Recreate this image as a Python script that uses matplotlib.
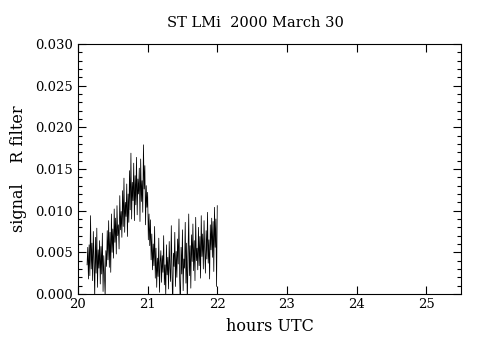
import matplotlib
matplotlib.use("Agg")
import matplotlib.pyplot as plt
import numpy as np
from matplotlib.ticker import MultipleLocator, FormatStrFormatter

# sampling: first sample time (hours UTC) and cadence (hours)
t_start = 20.13
t_step = 0.01

# R filter signal, in units of 0.001
signal_milli = [
    3.5, 5.6, 1.8, 5.9, 2.2, 9.4, 3.0, 6.1, 1.6, 7.5,
    4.0, -0.4, 6.8, 2.5, 7.9, 0.8, 5.3, 3.1, 6.4, 1.2,
    5.7, 2.4, 7.3, 0.3, 4.6, 2.0, -0.3, 5.2, 3.3, 7.6,
    4.1, 8.8, 3.2, 7.4, 2.6, 9.6, 5.0, 7.8, 4.3, 10.2,
    6.2, 9.1, 4.8, 10.6, 7.0, 8.3, 5.4, 11.8, 7.7, 9.9,
    6.8, 12.4, 8.1, 13.9, 7.4, 11.0, 9.3, 13.2, 6.9, 12.0,
    8.6, 14.8, 10.1, 16.9, 9.0, 13.4, 11.2, 15.7, 8.8, 14.2,
    10.7, 16.4, 9.5, 13.8, 12.0, 15.1, 8.7, 16.2, 11.1, 13.6,
    9.8, 17.9, 12.6, 15.4, 8.3, 13.0, 10.4, 12.2, 6.5, 9.6,
    5.8, 8.9, 4.1, 7.2, 2.9, 6.0, 3.4, 8.1, 1.9, 5.5,
    0.8, 4.3, 2.1, 6.7, 0.2, 3.8, 5.2, 1.4, 4.6, 2.6,
    7.0, 1.1, 3.5, -0.2, 5.9, 2.3, 4.4, 0.6, 6.3, 3.0,
    1.5, 8.2, 2.7, -1.8, 4.9, 3.3, 7.4, 0.9, 5.1, 2.0,
    6.6, 3.6, 9.0, 1.7, -2.0, 5.6, 2.4, 7.7, 0.4, 4.2,
    3.1, 8.6, 1.3, 6.1, -1.5, 4.7, 9.6, 2.2, 5.8, 0.7,
    7.1, 3.9, 8.4, 2.8, 6.4, 1.6, 9.2, 4.0, 5.5, 2.9,
    8.0, 3.4, 6.9, 1.9, 9.4, 4.5, 7.2, 3.0, 8.8, 5.1,
    2.5, 7.6, 4.2, 9.8, 3.7, 6.5, 1.8, 8.3, 5.3, 9.1,
    4.4, 8.7, 2.7, 10.4, 5.6, 9.0, 0.9, 10.6,
]

x_ticks = [20, 21, 22, 23, 24, 25]
title = "ST LMi  2000 March 30"
x_label = "hours UTC"
y_label = "signal    R filter"

times = t_start + t_step * np.arange(len(signal_milli))
signal = np.array(signal_milli) / 1000.0

plt.rcParams['font.family'] = ['DejaVu Serif']

fig = plt.figure(figsize=(4.8, 3.48), dpi=100)
ax = fig.add_axes([0.1625, 0.1552, 0.7979, 0.7184])

ax.plot(times, signal, color='black', linewidth=0.55)

ax.set_xlim(20, 25.5)
ax.set_ylim(0, 0.030)
ax.set_xticks(x_ticks)
ax.yaxis.set_major_locator(MultipleLocator(0.005))
ax.yaxis.set_minor_locator(MultipleLocator(0.001))
ax.yaxis.set_major_formatter(FormatStrFormatter('%.3f'))

ax.tick_params(which='both', direction='in', top=True, right=True,
               labelsize=9.5, width=0.8)
ax.tick_params(which='major', length=6)
ax.tick_params(which='minor', length=3)
ax.tick_params(axis='x', pad=3)
for s in ax.spines.values():
    s.set_linewidth(0.8)

ax.set_title(title, fontsize=10.5, pad=12, x=0.462)
ax.set_xlabel(x_label, fontsize=11.5, labelpad=5)
ax.set_ylabel(y_label, fontsize=11.5, labelpad=6)

plt.savefig("out.png", dpi=100)
